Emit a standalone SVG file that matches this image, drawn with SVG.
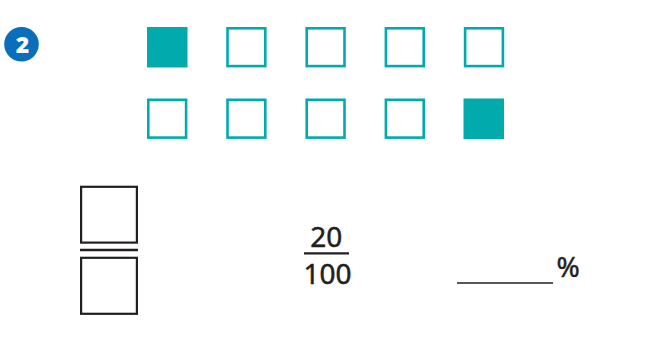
<svg xmlns="http://www.w3.org/2000/svg" width="654" height="351" viewBox="0 0 654 351">
<style>
.sq{fill:none;stroke:#00aaad;stroke-width:2.6}
.fill{fill:#00aaad}
.box{fill:none;stroke:#231f20;stroke-width:2.2}
.txt{font-family:"Noto Sans","Open Sans",sans-serif;font-size:28px;fill:#231f20;stroke:#231f20;stroke-width:0.5}
</style>
<rect width="654" height="351" fill="#fff"/>
<g id="badge">
<circle cx="21.5" cy="44.2" r="17.3" fill="#0a6fba"/>
<text x="22.5" y="53.2" text-anchor="middle" font-family="'Noto Sans','DejaVu Sans',sans-serif" font-weight="900" font-size="23" fill="#fff">2</text>
</g>
<g id="row1">
<rect class="fill" x="147" y="27" width="40.5" height="40.5"/>
<rect class="sq" x="227.5" y="28.3" width="37.8" height="37.8"/>
<rect class="sq" x="306.7" y="28.3" width="37.8" height="37.8"/>
<rect class="sq" x="385.9" y="28.3" width="37.8" height="37.8"/>
<rect class="sq" x="465.1" y="28.3" width="37.8" height="37.8"/>
</g>
<g id="row2">
<rect class="sq" x="148.3" y="99.8" width="37.8" height="37.8"/>
<rect class="sq" x="227.5" y="99.8" width="37.8" height="37.8"/>
<rect class="sq" x="306.7" y="99.8" width="37.8" height="37.8"/>
<rect class="sq" x="385.9" y="99.8" width="37.8" height="37.8"/>
<rect class="fill" x="463.5" y="98.5" width="40.5" height="40.5"/>
</g>
<g id="blank-fraction">
<rect class="box" x="81.1" y="186.8" width="55.8" height="55.8"/>
<line x1="80" y1="250" x2="138" y2="250" stroke="#231f20" stroke-width="2.4"/>
<rect class="box" x="81.1" y="257.8" width="55.8" height="56"/>
</g>
<g id="fraction">
<text class="txt" x="326.2" y="246.7" text-anchor="middle">20</text>
<line x1="304" y1="253.3" x2="349" y2="253.3" stroke="#231f20" stroke-width="2.2"/>
<text class="txt" x="327.5" y="283.5" text-anchor="middle">100</text>
</g>
<g id="percent">
<line x1="457" y1="283" x2="553" y2="283" stroke="#231f20" stroke-width="1.6"/>
<text class="txt" x="556.5" y="277" font-size="27">%</text>
</g>
</svg>
